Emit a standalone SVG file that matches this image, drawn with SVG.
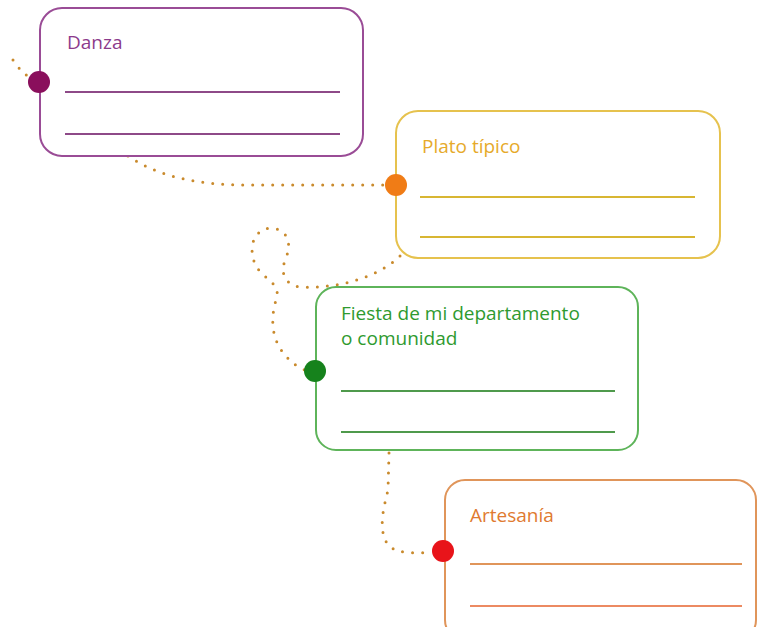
<svg xmlns="http://www.w3.org/2000/svg" width="758" height="627" viewBox="0 0 758 627">
<style>
.box{fill:#fff;stroke-width:2}
.rule{stroke-width:2}
.lbl{font-family:"Open Sans","Liberation Sans",sans-serif;font-size:19px}
.dots{fill:none;stroke:#c98a2c;stroke-width:3;stroke-linecap:round;stroke-dasharray:0 10}
</style>
<rect width="758" height="627" fill="#fff"/>
<g id="connectors">
<path class="dots" d="M13,60 Q22,74 34,80"/>
<path class="dots" d="M128,156 C160,178 200,184 240,185 L385,185"/>
<path class="dots" d="M400,256 C380,276 340,289 300,287 C282,284 280,270 287,255 C292,240 285,228 270,228 C252,230 248,250 256,266 C264,280 282,283 276,300 C270,320 272,340 285,355 C292,364 300,368 305,370"/>
<path class="dots" d="M389,453 L388,490 C383,510 378,530 388,545 C398,555 418,553 432,552"/>
</g>
<g id="danza">
<rect class="box" x="40" y="8" width="323" height="148" rx="22" stroke="#9a4c96"/>
<text class="lbl" x="67" y="49" fill="#8c3a8c">Danza</text>
<line class="rule" x1="65" y1="92" x2="340" y2="92" stroke="#8e4a88"/>
<line class="rule" x1="65" y1="134" x2="340" y2="134" stroke="#8e4a88"/>
<circle cx="39" cy="82" r="11" fill="#8a0f5c"/>
</g>
<g id="plato">
<rect class="box" x="396" y="111" width="324" height="147" rx="22" stroke="#e6c24e"/>
<text class="lbl" x="422" y="153" fill="#e6aa2a">Plato típico</text>
<line class="rule" x1="420" y1="197" x2="695" y2="197" stroke="#d8b632"/>
<line class="rule" x1="420" y1="237" x2="695" y2="237" stroke="#d8b632"/>
<circle cx="396" cy="185" r="11" fill="#f07c16"/>
</g>
<g id="fiesta">
<rect class="box" x="316" y="287" width="322" height="163" rx="20" stroke="#5eb45a"/>
<text class="lbl" x="341" y="320" fill="#2f9a2f">Fiesta de mi departamento</text>
<text class="lbl" x="341" y="345" fill="#2f9a2f">o comunidad</text>
<line class="rule" x1="341" y1="391" x2="615" y2="391" stroke="#4f9a4c"/>
<line class="rule" x1="341" y1="432" x2="615" y2="432" stroke="#4f9a4c"/>
<circle cx="315" cy="371" r="11" fill="#16821c"/>
</g>
<g id="artesania">
<rect class="box" x="445" y="480" width="311" height="160" rx="20" stroke="#e0955a"/>
<text class="lbl" x="470" y="522" fill="#e07a30">Artesanía</text>
<line class="rule" x1="470" y1="564" x2="742" y2="564" stroke="#e0955a"/>
<line class="rule" x1="470" y1="606" x2="742" y2="606" stroke="#ec8a62"/>
<circle cx="443" cy="551" r="11" fill="#e8141a"/>
</g>
</svg>
